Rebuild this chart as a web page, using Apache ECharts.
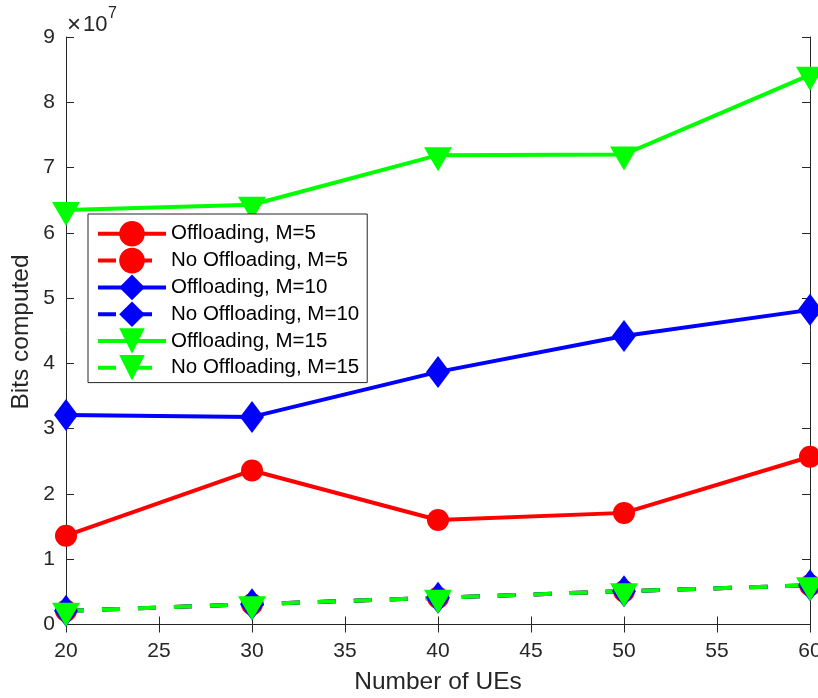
<!DOCTYPE html>
<html>
<head>
<meta charset="utf-8">
<script src="https://cdn.jsdelivr.net/npm/echarts@6/dist/echarts.min.js"></script>
<style>
html,body{margin:0;padding:0;background:#fff;}
#chart{width:818px;height:698px;}
</style>
</head>
<body>
<div id="chart"></div>
<script>
// Number of UEs
var categories = [20, 30, 40, 50, 60];
// Bits computed, in units of 1e7
var offM5   = [1.36, 2.36, 1.60, 1.71, 2.57];
var noOffM5 = [0.21, 0.31, 0.41, 0.51, 0.60];
var offM10  = [3.21, 3.18, 3.87, 4.42, 4.82];
var noOffM10= [0.21, 0.31, 0.41, 0.51, 0.60];
var offM15  = [6.35, 6.43, 7.19, 7.20, 8.42];
var noOffM15= [0.21, 0.31, 0.41, 0.51, 0.60];
var xTicks = [20, 25, 30, 35, 40, 45, 50, 55, 60];
var yTicks = [0, 1, 2, 3, 4, 5, 6, 7, 8, 9];

var FONT = '"Liberation Sans", Arial, Helvetica, sans-serif';
var AX = '#262626';
var TRI = 'path://M0,0 L28,0 L14,24 Z';

function pts(arr){ return categories.map(function(c,i){ return [c, arr[i]]; }); }

function mk(name, arr, color, symbol, size, dashed, offset){
  return {
    name: name, type: 'line', data: pts(arr),
    xAxisIndex: 0, yAxisIndex: 0,
    symbol: symbol, symbolSize: size, symbolOffset: offset || [0,0],
    showAllSymbol: true,
    lineStyle: {color: color, width: 4, type: dashed ? [18, 18] : 'solid'},
    itemStyle: {color: color},
    emphasis: {disabled: true},
    animation: false
  };
}

var chart = echarts.init(document.getElementById('chart'), null, {renderer: 'canvas'});
var axisCommon = {
  type: 'value', min: 20, max: 60, interval: 5,
  axisLine: {show: true, lineStyle: {color: AX, width: 1}},
  axisTick: {show: true, inside: true, length: 8, lineStyle: {color: AX}},
  splitLine: {show: false}
};
chart.setOption({
  backgroundColor: '#fff',
  animation: false,
  grid: {left: 66, right: 8, top: 37, bottom: 73.5, containLabel: false, outerBoundsMode: 'none'},
  xAxis: [
    Object.assign({}, axisCommon, {
      position: 'bottom',
      axisLabel: {show: true, margin: 16, color: AX, fontSize: 21, fontFamily: FONT,
        formatter: function(v){ return xTicks.indexOf(v) >= 0 ? String(v) : ''; }}
    }),
    Object.assign({}, axisCommon, {position: 'top', axisLabel: {show: false}})
  ],
  yAxis: [
    {
      type: 'value', min: 0, max: 9, interval: 1, position: 'left',
      axisLine: {show: true, lineStyle: {color: AX, width: 1}},
      axisTick: {show: true, inside: true, length: 8, lineStyle: {color: AX}},
      splitLine: {show: false},
      axisLabel: {show: true, margin: 11, color: AX, fontSize: 21, fontFamily: FONT,
        formatter: function(v){ return yTicks.indexOf(v) >= 0 ? String(v) : ''; }}
    },
    {
      type: 'value', min: 0, max: 9, interval: 1, position: 'right',
      axisLine: {show: true, onZero: false, lineStyle: {color: AX, width: 1}},
      axisTick: {show: true, inside: true, length: 8, lineStyle: {color: AX}},
      splitLine: {show: false},
      axisLabel: {show: false}
    }
  ],
  legend: {
    orient: 'vertical', left: 88, top: 214,
    padding: [7, 8, 2, 8],
    itemWidth: 68, itemHeight: 32, itemGap: 1.2,
    backgroundColor: '#fff', borderColor: AX, borderWidth: 1,
    lineStyle: {width: 4, type: 'inherit'},
    textStyle: {color: '#000', fontSize: 20.5, fontFamily: FONT},
    selectedMode: false,
    data: ['Offloading, M=5', 'No Offloading, M=5', 'Offloading, M=10',
           'No Offloading, M=10', 'Offloading, M=15', 'No Offloading, M=15']
  },
  series: [
    mk('Offloading, M=5', offM5, '#ff0000', 'circle', 22, false),
    mk('Offloading, M=10', offM10, '#0000ff', 'diamond', [24, 32], false),
    mk('Offloading, M=15', offM15, '#00ff00', TRI, [28, 24], false, [0, 4]),
    mk('No Offloading, M=5', noOffM5, '#ff0000', 'circle', 22, true),
    mk('No Offloading, M=10', noOffM10, '#0000ff', 'diamond', [24, 32], true),
    mk('No Offloading, M=15', noOffM15, '#00ff00', TRI, [28, 24], true, [0, 4])
  ],
  graphic: [
    {type: 'text', x: 438, y: 682.5, z: 10,
     style: {text: 'Number of UEs', fill: AX, font: '24.5px ' + FONT, textAlign: 'center', textVerticalAlign: 'middle'}},
    {type: 'text', x: 21, y: 332, rotation: Math.PI / 2, z: 10,
     style: {text: 'Bits computed', fill: AX, font: '24.5px ' + FONT, textAlign: 'center', textVerticalAlign: 'middle'}},
    {type: 'text', x: 67, y: 25, z: 10,
     style: {text: '\u00d7', fill: AX, font: '24px ' + FONT, textAlign: 'left', textVerticalAlign: 'middle'}},
    {type: 'text', x: 83, y: 25, z: 10,
     style: {text: '10', fill: AX, font: '22px ' + FONT, textAlign: 'left', textVerticalAlign: 'middle'}},
    {type: 'text', x: 108, y: 14, z: 10,
     style: {text: '7', fill: AX, font: '16px ' + FONT, textAlign: 'left', textVerticalAlign: 'middle'}}
  ]
});
</script>
</body>
</html>
